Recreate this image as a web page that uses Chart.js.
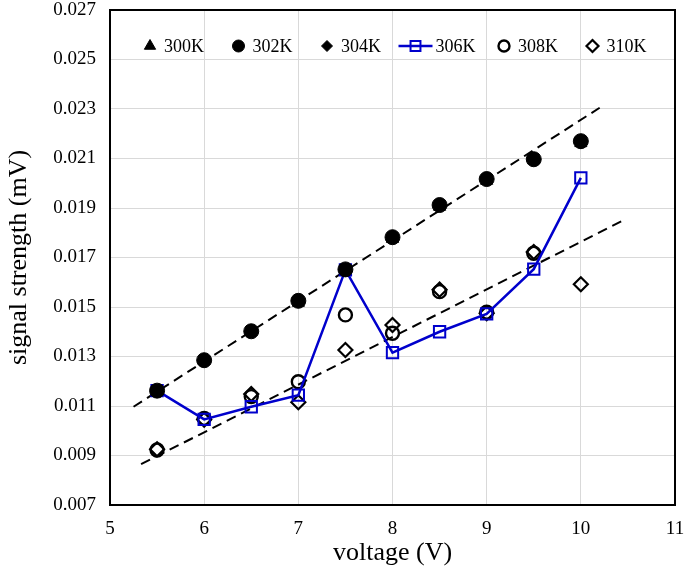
<!DOCTYPE html>
<html>
<head>
<meta charset="utf-8">
<script src="https://cdn.jsdelivr.net/npm/chart.js"></script>
<style>
  html, body { margin: 0; padding: 0; background: #fff; }
  #wrap { width: 685px; height: 570px; }
</style>
</head>
<body>
<div id="wrap"><canvas id="chart" width="685" height="570"></canvas></div>
<script>
// voltage (V) for every series
const voltage = [5.5, 6, 6.5, 7, 7.5, 8, 8.5, 9, 9.5, 10];

// signal strength (mV)
const s300 = [0.01160, 0.01282, 0.01400, 0.01517, 0.01650, 0.01775, 0.01905, 0.02010, 0.02093, 0.02162];
const s302 = [0.01162, 0.01285, 0.01402, 0.01525, 0.01652, 0.01782, 0.01912, 0.02017, 0.02097, 0.02170];
const s304 = [0.01160, 0.01283, 0.01403, 0.01522, 0.01648, 0.01780, 0.01910, 0.02015, 0.02095, 0.02165];
const s306 = [0.01162, 0.01046, 0.01097, 0.01144, 0.01650, 0.01316, 0.01400, 0.01472, 0.01653, 0.02022];
const s308 = [0.00922, 0.01050, 0.01138, 0.01198, 0.01468, 0.01394, 0.01562, 0.01479, 0.01717, null];
const s310 = [0.00925, 0.01045, 0.01148, 0.01115, 0.01326, 0.01427, 0.01570, 0.01475, 0.01722, 0.01592];

// linear trend lines (end points)
const trendUpperX = [5.25, 10.2];
const trendUpperY = [0.01097, 0.02305];
const trendLowerX = [5.33, 10.45];
const trendLowerY = [0.00865, 0.01850];

// ticks
const xTicks = [5, 6, 7, 8, 9, 10, 11];
const yTicks = [0.007, 0.009, 0.011, 0.013, 0.015, 0.017, 0.019, 0.021, 0.023, 0.025, 0.027];

const serif = 'Liberation Serif, Times New Roman, serif';
const blue = '#0000CC';

function pts(xs, ys) {
  return xs.map((x, i) => ({ x: x, y: ys[i] })).filter(p => p.y !== null);
}

// frame around the plot area
const framePlugin = {
  id: 'frame',
  afterDraw(chart) {
    const a = chart.chartArea;
    const ctx = chart.ctx;
    ctx.save();
    ctx.strokeStyle = '#000';
    ctx.lineWidth = 2;
    ctx.strokeRect(a.left, a.top, a.right - a.left, a.bottom - a.top);
    ctx.restore();
  }
};

// legend drawn inside the plot, one row
const innerLegend = {
  id: 'innerLegend',
  afterDraw(chart) {
    const ctx = chart.ctx;
    const a = chart.chartArea;
    const y = a.top + 36;
    let x = a.left + 40;
    ctx.save();
    ctx.font = '18px ' + serif;
    ctx.textBaseline = 'middle';
    ctx.fillStyle = '#000';
    chart.data.datasets.forEach(ds => {
      if (!ds.inLegend) return;
      if (ds.showLine) {
        ctx.strokeStyle = ds.borderColor;
        ctx.lineWidth = ds.borderWidth;
        ctx.beginPath();
        ctx.moveTo(x - 17, y);
        ctx.lineTo(x + 17, y);
        ctx.stroke();
      }
      ctx.strokeStyle = ds.pointBorderColor;
      ctx.fillStyle = ds.pointBackgroundColor;
      ctx.lineWidth = ds.pointBorderWidth;
      Chart.helpers.drawPoint(ctx, {
        pointStyle: ds.pointStyle,
        radius: ds.legendRadius,
        borderWidth: ds.pointBorderWidth,
        rotation: 0
      }, x, y);
      ctx.fillStyle = '#000';
      ctx.fillText(ds.label, x + (ds.showLine ? 20 : 14), y + 1);
      x += 88.5;
    });
    ctx.restore();
  }
};

const ctx = document.getElementById('chart');
new Chart(ctx, {
  type: 'scatter',
  data: {
    datasets: [
      {
        label: '300K', inLegend: true, data: pts(voltage, s300),
        pointStyle: 'triangle', pointRadius: 7, legendRadius: 6.5,
        pointBackgroundColor: '#000', pointBorderColor: '#000', pointBorderWidth: 1
      },
      {
        label: '302K', inLegend: true, data: pts(voltage, s302),
        pointStyle: 'circle', pointRadius: 7.5, legendRadius: 6,
        pointBackgroundColor: '#000', pointBorderColor: '#000', pointBorderWidth: 1
      },
      {
        label: '304K', inLegend: true, data: pts(voltage, s304),
        pointStyle: 'rectRot', pointRadius: 6.5, legendRadius: 5.5,
        pointBackgroundColor: '#000', pointBorderColor: '#000', pointBorderWidth: 1
      },
      {
        label: '306K', inLegend: true, data: pts(voltage, s306),
        showLine: true, borderColor: blue, borderWidth: 2.5,
        pointStyle: 'rect', pointRadius: 8, legendRadius: 7,
        pointBackgroundColor: 'rgba(255,255,255,0)', pointBorderColor: blue, pointBorderWidth: 2
      },
      {
        label: '308K', inLegend: true, data: pts(voltage, s308),
        pointStyle: 'circle', pointRadius: 6.5, legendRadius: 5.5,
        pointBackgroundColor: 'rgba(255,255,255,0)', pointBorderColor: '#000', pointBorderWidth: 2.4
      },
      {
        label: '310K', inLegend: true, data: pts(voltage, s310),
        pointStyle: 'rectRot', pointRadius: 7, legendRadius: 6,
        pointBackgroundColor: 'rgba(255,255,255,0)', pointBorderColor: '#000', pointBorderWidth: 2.2
      },
      {
        label: 'trend upper', data: pts(trendUpperX, trendUpperY),
        showLine: true, borderColor: '#000', borderWidth: 2, borderDash: [10, 6], pointRadius: 0
      },
      {
        label: 'trend lower', data: pts(trendLowerX, trendLowerY),
        showLine: true, borderColor: '#000', borderWidth: 2, borderDash: [10, 6], pointRadius: 0
      }
    ]
  },
  options: {
    responsive: false,
    animation: false,
    layout: { padding: { top: 10, right: 7, left: 0, bottom: 0 } },
    plugins: {
      legend: { display: false },
      tooltip: { enabled: false }
    },
    scales: {
      x: {
        type: 'linear', min: 5, max: 11,
        afterBuildTicks: s => { s.ticks = xTicks.map(v => ({ value: v })); },
        afterFit: s => { s.height = 65; s.paddingLeft = 0; s.paddingRight = 0; },
        grid: { color: '#d9d9d9', lineWidth: 1, drawTicks: false },
        border: { display: false },
        ticks: { padding: 13, color: '#000', font: { family: serif, size: 19 } },
        title: {
          display: true, text: 'voltage (V)', color: '#000',
          font: { family: serif, size: 26 }, padding: { top: 0, bottom: 1 }
        }
      },
      y: {
        type: 'linear', min: 0.007, max: 0.027,
        afterBuildTicks: s => { s.ticks = yTicks.map(v => ({ value: v })); },
        afterFit: s => { s.width = 110; s.paddingTop = 0; s.paddingBottom = 0; },
        grid: { color: '#d9d9d9', lineWidth: 1, drawTicks: false },
        border: { display: false },
        ticks: {
          padding: 14, color: '#000', font: { family: serif, size: 19 },
          callback: v => v.toFixed(3)
        },
        title: {
          display: true, text: 'signal strength (mV)', color: '#000',
          font: { family: serif, size: 26 }, padding: { top: 4, bottom: 0 }
        }
      }
    }
  },
  plugins: [framePlugin, innerLegend]
});
</script>
</body>
</html>
